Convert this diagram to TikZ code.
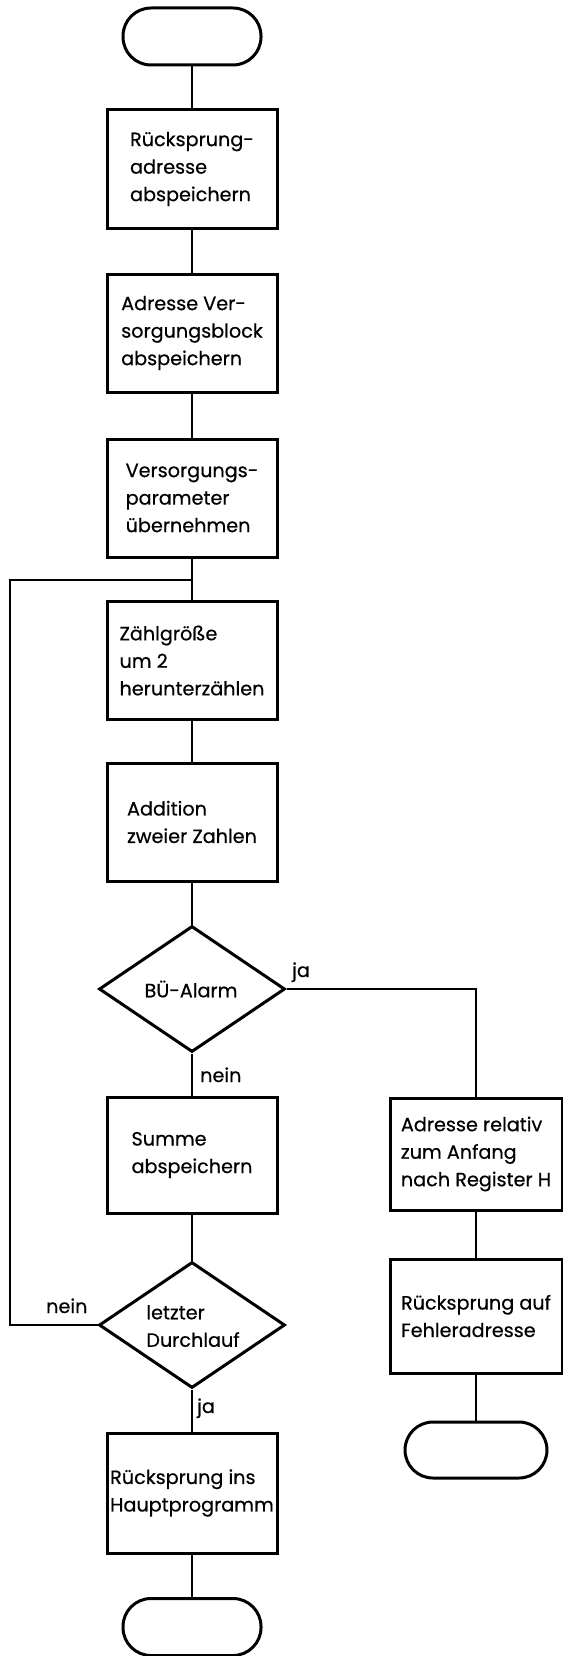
\documentclass[tikz,border=0pt]{standalone}
\usepackage{fontspec}
\setmainfont{Poppins}
\newfontfamily\dfont{Poppins}[FakeBold=0.5]
\usetikzlibrary{shapes.geometric}
\begin{document}
\begin{tikzpicture}[x=1pt,y=-1pt,
  txt/.style={font=\dfont\fontsize{19.2}{27.5}\selectfont},
  box/.style={draw, line width=3pt, minimum width=170pt, minimum height=118pt, align=left, inner sep=0pt, txt},
  term/.style={draw, line width=3pt, minimum width=138pt, minimum height=57pt, rounded corners=28pt},
  dec/.style={draw, diamond, line width=3pt, minimum width=186pt, minimum height=126pt, inner sep=0pt},
  conn/.style={line width=1.8pt},
  lbl/.style={inner sep=0pt, anchor=base west, txt}]
\useasboundingbox (0,0) rectangle (562,1656);
% main column
\node[term] (t1) at (192,36.5) {};
\node[box] (b1) at (192,169) {Rücksprung-\\adresse\\abspeichern};
\node[box] (b2) at (192,333) {Adresse Ver-\\sorgungsblock\\abspeichern};
\node[box] (b3) at (192,498) {Versorgungs-\\parameter\\übernehmen};
\node[box] (b4) at (192,660.5) {Zählgröße\\um 2\\herunterzählen};
\node[box] (b5) at (192,822) {Addition\\zweier Zahlen};
\node[dec] (d1) at (192,989) {};
\node[txt] (d1t) at (191,989) {BÜ-Alarm};
\node[box, minimum height=116pt] (b6) at (192,1155) {Summe\\abspeichern};
\node[dec] (d2) at (192,1325) {};
\node[txt, align=left] (d2t) at (193,1326) {letzter\\Durchlauf};
\node[box, minimum height=120pt] (b7) at (192,1493) {Rücksprung ins\\Hauptprogramm};
\node[term] (t2) at (192,1627) {};
% right column
\node[box, minimum width=172pt, minimum height=112pt] (r1) at (476,1154) {Adresse relativ\\zum Anfang\\nach Register H};
\node[box, minimum width=172pt, minimum height=114pt] (r2) at (476,1316) {Rücksprung auf\\Fehleradresse};
\node[term, minimum width=142pt, minimum height=56pt] (tr) at (476,1450) {};
% labels
\node[lbl] (lja1) at (292,977) {ja};
\node[lbl] (lnein1) at (200,1082) {nein};
\node[lbl] (lnein2) at (46,1313) {nein};
\node[lbl] (lja2) at (197,1413) {ja};
% connectors
\coordinate (j) at (192,580);
\coordinate (lx) at (10,0);
\draw[conn] (t1) -- (b1);
\draw[conn] (b1) -- (b2);
\draw[conn] (b2) -- (b3);
\draw[conn] (b3) -- (b4);
\draw[conn] (b4) -- (b5);
\draw[conn] (b5) -- (d1.north);
\draw[conn] (d1.south) -- (b6);
\draw[conn] (b6) -- (d2.north);
\draw[conn] (d2.south) -- (b7);
\draw[conn] (b7) -- (t2);
\draw[conn] (d1.east) -| (r1.north);
\draw[conn] (r1) -- (r2);
\draw[conn] (r2) -- (tr);
\draw[conn] (d2.west) -- (d2.west -| lx) |- (j);
\end{tikzpicture}
\end{document}
